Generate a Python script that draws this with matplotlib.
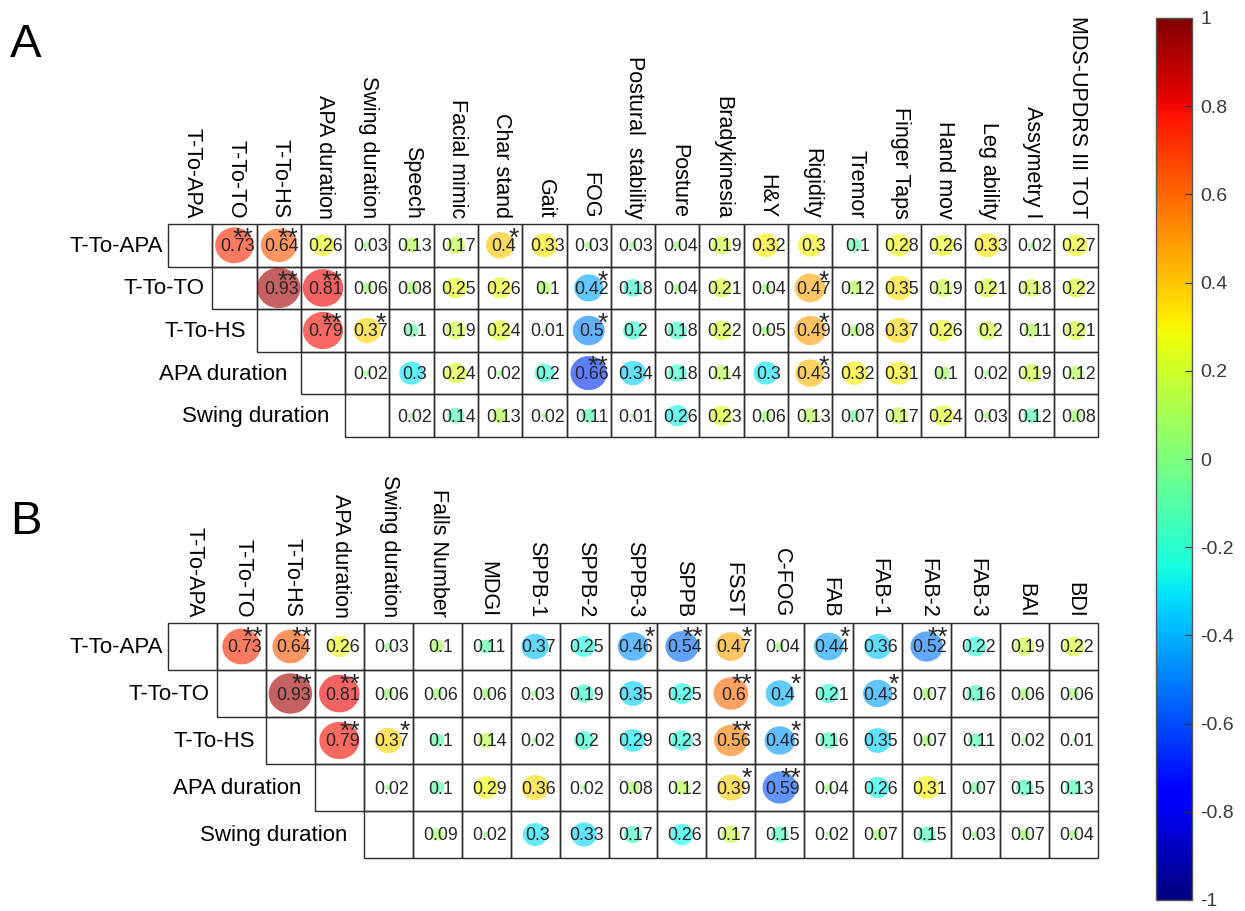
import numpy as np
import matplotlib
matplotlib.use("Agg")
import matplotlib.pyplot as plt
from matplotlib.path import Path
from matplotlib.patches import Rectangle
from matplotlib.colors import Normalize
from matplotlib.colorbar import ColorbarBase

plt.rcParams['font.family'] = ['Liberation Sans', 'DejaVu Sans']

# ---------------- variables ----------------
gait_vars = ["T-To-APA", "T-To-TO", "T-To-HS", "APA duration", "Swing duration"]

clinical_a = ["Speech", "Facial mimic", "Char stand", "Gait", "FOG",
              "Postural  stability", "Posture", "Bradykinesia", "H&Y", "Rigidity",
              "Tremor", "Finger Taps", "Hand mov", "Leg ability", "Assymetry I",
              "MDS-UPDRS III TOT"]

clinical_b = ["Falls Number", "MDGI", "SPPB-1", "SPPB-2", "SPPB-3", "SPPB", "FSST",
              "C-FOG", "FAB", "FAB-1", "FAB-2", "FAB-3", "BAI", "BDI"]

# ---------------- panel A: signed correlations (upper triangle, row by row) ----------------
a_tto_apa = [0.73, 0.64, 0.26, 0.03, 0.13, 0.17, 0.40, 0.33, 0.03, 0.03, 0.04,
             0.19, 0.32, 0.30, -0.10, 0.28, 0.26, 0.33, 0.02, 0.27]
a_tto_to = [0.93, 0.81, 0.06, 0.08, 0.25, 0.26, 0.10, -0.42, -0.18, 0.04, 0.21,
            0.04, 0.47, 0.12, 0.35, 0.19, 0.21, 0.18, 0.22]
a_tto_hs = [0.79, 0.37, -0.10, 0.19, 0.24, 0.01, -0.50, -0.20, -0.18, 0.22, 0.05,
            0.49, 0.08, 0.37, 0.26, 0.20, 0.11, 0.21]
a_apa_dur = [0.02, -0.30, 0.24, 0.02, -0.20, -0.66, -0.34, -0.18, 0.14, -0.30,
             0.43, 0.32, 0.31, 0.10, 0.02, 0.19, 0.12]
a_swing_dur = [0.02, -0.14, 0.13, 0.02, -0.11, 0.01, -0.26, 0.23, 0.06, 0.13,
               -0.07, 0.17, 0.24, 0.03, -0.12, 0.08]

# significance stars (1: p<0.05, 2: p<0.01)
a_sig_tto_apa = [2, 2, 0, 0, 0, 0, 1, 0, 0, 0, 0, 0, 0, 0, 0, 0, 0, 0, 0, 0]
a_sig_tto_to = [2, 2, 0, 0, 0, 0, 0, 1, 0, 0, 0, 0, 1, 0, 0, 0, 0, 0, 0]
a_sig_tto_hs = [2, 1, 0, 0, 0, 0, 1, 0, 0, 0, 0, 1, 0, 0, 0, 0, 0, 0]
a_sig_apa_dur = [0, 0, 0, 0, 0, 2, 0, 0, 0, 0, 1, 0, 0, 0, 0, 0, 0]
a_sig_swing_dur = [0] * 16

# ---------------- panel B ----------------
b_tto_apa = [0.73, 0.64, 0.26, 0.03, 0.10, -0.11, -0.37, -0.25, -0.46, -0.54, 0.47,
             0.04, -0.44, -0.36, -0.52, -0.22, 0.19, 0.22]
b_tto_to = [0.93, 0.81, 0.06, 0.06, 0.06, 0.03, -0.19, -0.35, -0.25, 0.60, -0.40,
            -0.21, -0.43, 0.07, -0.16, 0.06, 0.06]
b_tto_hs = [0.79, 0.37, -0.10, 0.14, 0.02, -0.20, -0.29, -0.23, 0.56, -0.46, -0.16,
            -0.35, 0.07, -0.11, 0.02, 0.01]
b_apa_dur = [0.02, -0.10, 0.29, 0.36, 0.02, 0.08, 0.12, 0.39, -0.59, 0.04, -0.26,
             0.31, -0.07, -0.15, -0.13]
b_swing_dur = [0.09, 0.02, -0.30, -0.33, -0.17, -0.26, 0.17, -0.15, 0.02, 0.07,
               -0.15, 0.03, 0.07, 0.04]

b_sig_tto_apa = [2, 2, 0, 0, 0, 0, 0, 0, 1, 2, 1, 0, 1, 0, 2, 0, 0, 0]
b_sig_tto_to = [2, 2, 0, 0, 0, 0, 0, 0, 0, 2, 1, 0, 1, 0, 0, 0, 0]
b_sig_tto_hs = [2, 1, 0, 0, 0, 0, 0, 0, 2, 1, 0, 0, 0, 0, 0, 0]
b_sig_apa_dur = [0, 0, 0, 0, 0, 0, 0, 1, 2, 0, 0, 0, 0, 0, 0]
b_sig_swing_dur = [0] * 14

cbar_ticks = [-1, -0.8, -0.6, -0.4, -0.2, 0, 0.2, 0.4, 0.6, 0.8, 1]
cbar_ticklabels = ["-1", "-0.8", "-0.6", "-0.4", "-0.2", "0", "0.2", "0.4", "0.6", "0.8", "1"]

# ---------------- drawing ----------------
W, H = 1245, 911
fig = plt.figure(figsize=(W / 100, H / 100), dpi=100)

# slightly flattened disc used as the bubble marker
t = np.linspace(0, 2 * np.pi, 73)
ellipse = Path(np.column_stack([np.cos(t), 0.93 * np.sin(t)]), closed=True)

cmap = plt.get_cmap('jet')
norm = Normalize(-1, 1)
line_col = '#2b2b2b'
PT = 0.72  # points per pixel at 100 dpi


def px_rect(x0, y0, x1, y1):
    return [x0 / W, 1 - y1 / H, (x1 - x0) / W, (y1 - y0) / H]


def draw_table(rect, columns, rows, sigs):
    ax = fig.add_axes(rect)
    ncol, nrow = len(columns), len(rows)
    ax.set_xlim(0, ncol)
    ax.set_ylim(nrow, 0)
    ax.axis('off')

    # grid of cells from the diagonal to the right end
    for i in range(nrow):
        for j in range(i, ncol):
            ax.add_patch(Rectangle((j, i), 1, 1, fill=False, ec=line_col,
                                   lw=1.0, clip_on=False))

    xs, ys, rs, st = [], [], [], []
    for i, (vals, sg) in enumerate(zip(rows, sigs)):
        for k, (r, s) in enumerate(zip(vals, sg)):
            xs.append(i + 1 + k + 0.5)
            ys.append(i + 0.5)
            rs.append(r)
            st.append(s)
    rs = np.array(rs)
    ax.scatter(xs, ys, s=1050 * np.abs(rs), c=rs, cmap=cmap, norm=norm,
               marker=ellipse, alpha=0.62, linewidths=0, clip_on=False, zorder=2)

    for x, y, r, s in zip(xs, ys, rs, st):
        ax.annotate(f"{abs(r):g}", xy=(x, y), xytext=(3 * PT, -1.5 * PT),
                    textcoords='offset points', ha='center', va='center',
                    fontsize=12.8, color='#262626', zorder=3)
        if s:
            ax.annotate("*" * s, xy=(x + 0.5, y - 0.5), xytext=(-3 * PT, -3 * PT),
                        textcoords='offset points', ha='right', va='top',
                        fontsize=19, color='#262626', zorder=4)

    # row labels, right-aligned just before each staircase step
    for i, name in enumerate(gait_vars):
        gap = (5 + 2.8 * i) * PT
        ax.annotate(name, xy=(i, i + 0.5), xytext=(-gap, -1 * PT),
                    textcoords='offset points', ha='right', va='center',
                    fontsize=16, color='black')
    # column labels, rotated and sitting on the top border
    for j, name in enumerate(columns):
        ax.annotate(name, xy=(j + 0.5, 0), xytext=(1, 4), textcoords='offset points',
                    rotation=-90, ha='center', va='bottom', fontsize=15.5, color='black')
    return ax


draw_table(px_rect(168, 224, 1098, 437), gait_vars + clinical_a,
           [a_tto_apa, a_tto_to, a_tto_hs, a_apa_dur, a_swing_dur],
           [a_sig_tto_apa, a_sig_tto_to, a_sig_tto_hs, a_sig_apa_dur, a_sig_swing_dur])

draw_table(px_rect(168, 623, 1098, 858), gait_vars + clinical_b,
           [b_tto_apa, b_tto_to, b_tto_hs, b_apa_dur, b_swing_dur],
           [b_sig_tto_apa, b_sig_tto_to, b_sig_tto_hs, b_sig_apa_dur, b_sig_swing_dur])

fig.text(10 / W, 1 - 45 / H, "A", fontsize=34, ha='left', va='center')
fig.text(10 / W, 1 - 522 / H, "B", fontsize=34, ha='left', va='center')

# colour bar
cax = fig.add_axes(px_rect(1156, 18, 1192, 900))
cb = ColorbarBase(cax, cmap=cmap, norm=norm, orientation='vertical')
cb.set_ticks(cbar_ticks)
cb.set_ticklabels(cbar_ticklabels)
cb.outline.set_edgecolor('#555555')
cb.outline.set_linewidth(1.0)
cax.tick_params(direction='in', length=5, width=0.8, color='#333333',
                labelsize=14, labelcolor='#3a3a3a', pad=6)

fig.savefig("out.png", dpi=100)
